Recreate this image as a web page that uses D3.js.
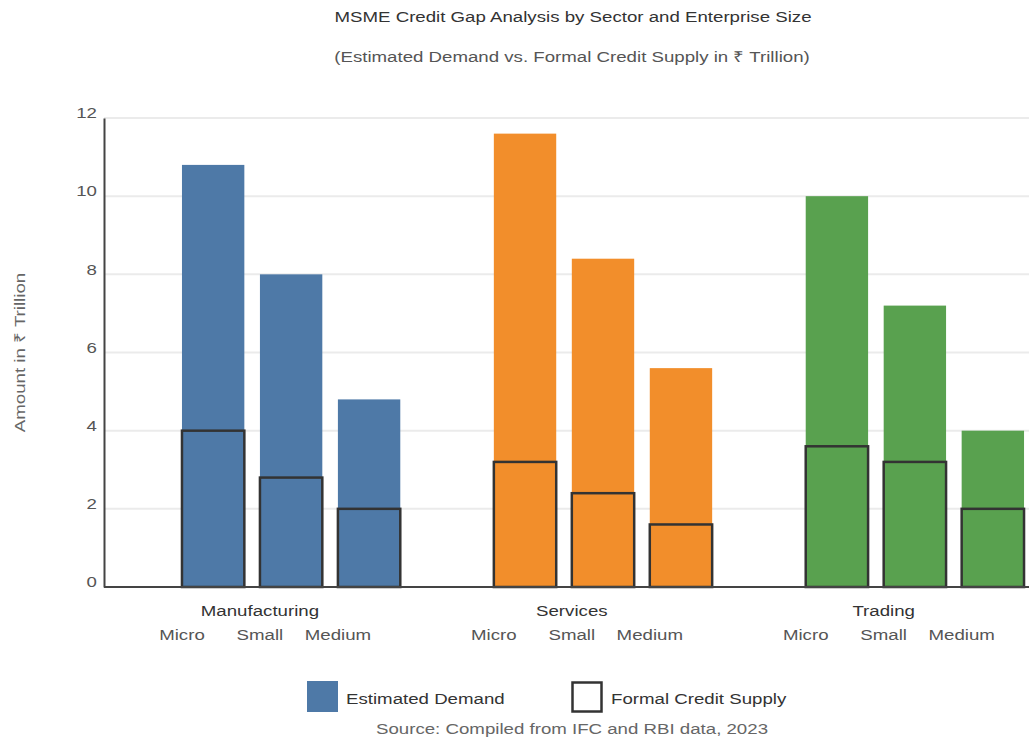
<!DOCTYPE html>
<html>
<head>
<meta charset="utf-8">
<script src="https://cdn.jsdelivr.net/npm/d3@7"></script>
<style>
  html, body { margin: 0; padding: 0; background: #fff; overflow: hidden; }
  svg { display: block; font-family: "Liberation Sans", Arial, sans-serif; }
</style>
</head>
<body>
<svg id="chart" width="1029" height="737"></svg>
<script>
// Sectors, enterprise sizes and values (₹ Trillion)
const sectors = ["Manufacturing", "Services", "Trading"];
const sizes = ["Micro", "Small", "Medium"];
const demand = [
  [10.8, 8.0, 4.8],   // Manufacturing
  [11.6, 8.4, 5.6],   // Services
  [10.0, 7.2, 4.0]    // Trading
];
const supply = [
  [4.0, 2.8, 2.0],
  [3.2, 2.4, 1.6],
  [3.6, 3.2, 2.0]
];
const sectorColors = ["#4e79a7", "#f28e2b", "#59a14f"];
const yTicks = [0, 2, 4, 6, 8, 10, 12];

const svg = d3.select("#chart");
const plotLeft = 104, plotTop = 118, plotBottom = 587;
const plotRight = 1102;
const WIDE = 1.245;   // horizontal widening applied to all labels

const x0 = d3.scaleBand().domain(sectors).range([plotLeft, plotRight]).padding(0.2);
const x1 = d3.scaleBand().domain(sizes).range([0, x0.bandwidth()]).padding(0.2);
const y = d3.scaleLinear().domain([0, 12]).range([plotBottom, plotTop]);

// Adds a widened text label anchored at (x, y)
function label(parent, x, yPos, str, opts = {}) {
  const rot = opts.rotate ? ` rotate(${opts.rotate})` : "";
  return parent.append("text")
    .attr("transform", `translate(${x},${yPos})${rot} scale(${WIDE},1)`)
    .attr("text-anchor", opts.anchor || "start")
    .attr("font-size", opts.size || 15)
    .attr("fill", opts.fill || "#333")
    .text(str);
}

// Title
label(svg, 573, 22, "MSME Credit Gap Analysis by Sector and Enterprise Size",
  { anchor: "middle", fill: "#333" });
label(svg, 572, 62, "(Estimated Demand vs. Formal Credit Supply in ₹ Trillion)",
  { anchor: "middle", fill: "#555" });

// Gridlines
svg.append("g").selectAll("line").data(yTicks.filter(d => d > 0)).join("line")
  .attr("x1", plotLeft).attr("x2", plotRight)
  .attr("y1", d => y(d)).attr("y2", d => y(d))
  .attr("stroke", "#ebebeb").attr("stroke-width", 2);

// Y axis
const yAxis = svg.append("g").attr("transform", `translate(${plotLeft},0)`)
  .call(d3.axisLeft(y).tickValues(yTicks).tickSize(0).tickPadding(8));
yAxis.select(".domain").attr("stroke", "#444").attr("stroke-width", 2);
yAxis.selectAll(".tick text")
  .attr("x", 0)
  .attr("transform", `translate(-7,-5) scale(${WIDE},1)`)
  .attr("font-size", 15).attr("fill", "#555")
  .attr("font-family", "Liberation Sans, Arial, sans-serif");

label(svg, 25, (plotTop + plotBottom) / 2, "Amount in ₹ Trillion",
  { anchor: "middle", fill: "#666", rotate: -90 });

// Bars
const groups = svg.append("g").selectAll("g").data(sectors).join("g")
  .attr("transform", d => `translate(${x0(d)},0)`);

groups.each(function(s, i) {
  const g = d3.select(this);
  g.selectAll("rect.demand").data(sizes).join("rect").attr("class", "demand")
    .attr("x", d => x1(d)).attr("width", x1.bandwidth())
    .attr("y", (d, j) => y(demand[i][j]))
    .attr("height", (d, j) => y(0) - y(demand[i][j]))
    .attr("fill", sectorColors[i]);
  g.selectAll("rect.supply").data(sizes).join("rect").attr("class", "supply")
    .attr("x", d => x1(d)).attr("width", x1.bandwidth())
    .attr("y", (d, j) => y(supply[i][j]))
    .attr("height", (d, j) => y(0) - y(supply[i][j]))
    .attr("fill", "none").attr("stroke", "#333").attr("stroke-width", 2.5);
});

// X axis baseline
svg.append("line").attr("x1", plotLeft).attr("x2", plotRight)
  .attr("y1", y(0)).attr("y2", y(0))
  .attr("stroke", "#444").attr("stroke-width", 2);

// Sector and size labels
sectors.forEach((s, i) => {
  const cx = x0(s) + x0.bandwidth() / 2 - x0.step() * 0.1;
  label(svg, cx, 616, s, { anchor: "middle", fill: "#333" });
  sizes.forEach((z, j) => {
    label(svg, cx + (j - 1) * x1.step(), 640, z, { anchor: "middle", fill: "#555" });
  });
});

// Legend
const legend = svg.append("g");
legend.append("rect").attr("x", 307).attr("y", 681).attr("width", 31).attr("height", 31)
  .attr("fill", sectorColors[0]);
label(legend, 346, 704, "Estimated Demand", { fill: "#333" });
legend.append("rect").attr("x", 572.5).attr("y", 682.5).attr("width", 29).attr("height", 29)
  .attr("fill", "none").attr("stroke", "#333").attr("stroke-width", 2.5);
label(legend, 611, 704, "Formal Credit Supply", { fill: "#333" });

label(svg, 572, 734, "Source: Compiled from IFC and RBI data, 2023",
  { anchor: "middle", fill: "#666" });
</script>
</body>
</html>
